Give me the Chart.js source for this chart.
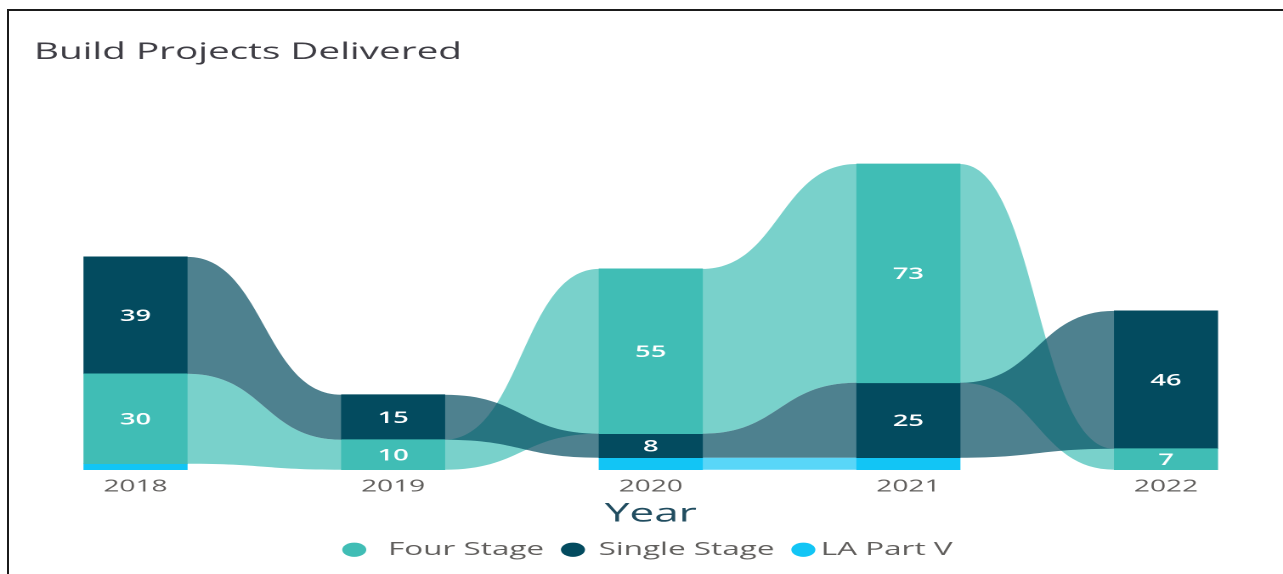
<!DOCTYPE html>
<html>
<head>
<meta charset="utf-8">
<script src="https://cdn.jsdelivr.net/npm/chart.js@4"></script>
<style>
  html, body { margin: 0; padding: 0; background: #ffffff; overflow: hidden; }
  #frame { position: absolute; left: 7px; top: 9px; width: 1300px; height: 600px;
           border-left: 2px solid #1b1b1b; border-top: 2px solid #1b1b1b; pointer-events: none; }
  #wrap { position: absolute; left: 0; top: 0; width: 755px; height: 574px;
          transform: scaleX(1.69934); transform-origin: 0 0; }
</style>
</head>
<body>
<div id="wrap"><canvas id="c"></canvas></div>
<div id="frame"></div>
<script>
// ---- data ----
const years = ['2018', '2019', '2020', '2021', '2022'];
const seriesNames = ['  Four Stage', ' Single Stage', 'LA Part V'];
const fourStage = [30, 10, 55, 73, 7];
const singleStage = [39, 15, 8, 25, 46];
const laPartV = [2, 0, 4, 4, 0];

// ---- styles ----
const seriesColors = ['#40BDB5', '#034B5F', '#12C5F5'];
const ribbonColors = ['rgba(64,189,181,0.70)', 'rgba(3,75,95,0.70)', 'rgba(18,197,245,0.70)'];
const FONT = "'Open Sans', 'Noto Sans', sans-serif";

const seriesValues = [fourStage, singleStage, laPartV];

// ribbon chart: within each year the largest series sits on top
function rankedRanges(sIdx) {
  return years.map((_, i) => {
    const v = seriesValues[sIdx][i];
    if (!v) return null;
    let base = 0;
    seriesValues.forEach((arr, k) => {
      if (k === sIdx) return;
      if (arr[i] < v || (arr[i] === v && k > sIdx)) base += arr[i];
    });
    return [base, base + v];
  });
}

const datasets = seriesNames.map((name, s) => ({
  label: name,
  data: rankedRanges(s),
  rawValues: seriesValues[s],
  backgroundColor: seriesColors[s],
  borderWidth: 0,
  barThickness: 60.6,
  grouped: false,
  clip: false
}));

const ribbonPlugin = {
  id: 'ribbons',
  beforeDatasetsDraw(chart) {
    const ctx = chart.ctx;
    ctx.save();
    chart.data.datasets.forEach((ds, s) => {
      const meta = chart.getDatasetMeta(s);
      for (let i = 0; i < years.length - 1; i++) {
        if (ds.data[i] == null || ds.data[i + 1] == null) continue;
        const a = meta.data[i], b = meta.data[i + 1];
        const x0 = a.x + a.width / 2, x1 = b.x - b.width / 2;
        const xm = (x0 + x1) / 2;
        ctx.beginPath();
        ctx.moveTo(x0, a.y);
        ctx.bezierCurveTo(xm, a.y, xm, b.y, x1, b.y);
        ctx.lineTo(x1, b.base);
        ctx.bezierCurveTo(xm, b.base, xm, a.base, x0, a.base);
        ctx.closePath();
        ctx.fillStyle = ribbonColors[s];
        ctx.fill();
      }
    });
    ctx.restore();
  }
};

const labelPlugin = {
  id: 'barLabels',
  afterDatasetsDraw(chart) {
    const ctx = chart.ctx;
    ctx.save();
    ctx.fillStyle = '#ffffff';
    ctx.font = "600 16px " + FONT;
    ctx.textAlign = 'center';
    ctx.textBaseline = 'middle';
    chart.data.datasets.forEach((ds, s) => {
      const meta = chart.getDatasetMeta(s);
      meta.data.forEach((el, i) => {
        if (ds.data[i] == null) return;
        if (Math.abs(el.base - el.y) < 16) return;
        ctx.fillText(String(ds.rawValues[i]), el.x, (el.y + el.base) / 2 + 1);
      });
    });
    ctx.restore();
  }
};

new Chart(document.getElementById('c'), {
  type: 'bar',
  data: { labels: years, datasets },
  plugins: [ribbonPlugin, labelPlugin],
  options: {
    responsive: true,
    maintainAspectRatio: false,
    devicePixelRatio: 2,
    animation: false,
    layout: { padding: { left: 20, right: 7, top: 0, bottom: 5 } },
    scales: {
      x: {
        type: 'category',
        offset: false,
        grid: { display: false, drawTicks: false },
        border: { display: false },
        ticks: { padding: 7, maxRotation: 0, autoSkip: false, color: '#605E5C',
                 font: { family: FONT, size: 16.5 } },
        title: { display: true, text: 'Year', color: '#214d60',
                 font: { family: FONT, size: 26, lineHeight: 0.8 },
                 padding: { top: 0, bottom: 0.2 } }
      },
      y: {
        position: 'left', min: 0, max: 120,
        grid: { display: false, drawTicks: false },
        border: { display: false },
        ticks: { display: false },
        afterFit(scale) { scale.width = 59.74; }
      },
      yR: {
        position: 'right', min: 0, max: 120,
        grid: { display: false, drawTicks: false },
        border: { display: false },
        ticks: { display: false },
        afterFit(scale) { scale.width = 61.85; }
      }
    },
    plugins: {
      tooltip: { enabled: false },
      title: {
        display: true, text: 'Build Projects Delivered', align: 'start',
        color: '#3e3d44', font: { family: FONT, size: 22.75, weight: 'normal', lineHeight: 1.2 },
        padding: { top: 39, bottom: 43.7 }
      },
      legend: {
        display: true, position: 'bottom', align: 'center',
        labels: { usePointStyle: true, pointStyle: 'circle', boxWidth: 2, boxHeight: 10,
                  padding: 16, color: '#605E5C', font: { family: FONT, size: 18.5 } }
      }
    }
  }
});
</script>
</body>
</html>
